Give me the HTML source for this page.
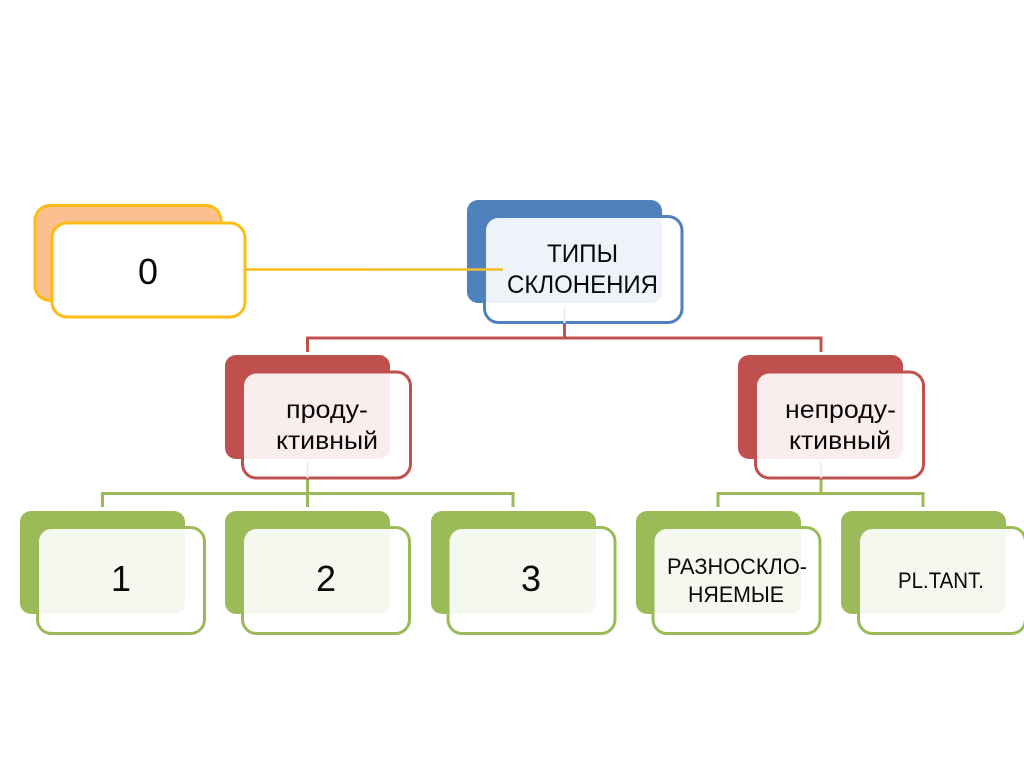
<!DOCTYPE html>
<html><head><meta charset="utf-8"><style>
html,body{margin:0;padding:0;background:#fff;width:1024px;height:767px;overflow:hidden}
svg{display:block}
text{font-family:"Liberation Sans","DejaVu Sans",sans-serif;fill:#0a0a0a;text-anchor:start}
</style></head><body>
<svg width="1024" height="767" viewBox="0 0 1024 767" xmlns="http://www.w3.org/2000/svg">
<!-- connectors -->
<g fill="none" stroke-width="3">
<path d="M307.5 352V338H821V352M564.500 323V338" stroke="#c0504d"/>
<path d="M102.500 507V493.500H513V507M307.500 478V507" stroke="#9bbb59"/>
<path d="M718 507V493.500H923V507M821 478V493.500" stroke="#9bbb59"/>
</g>
<!-- orange -->
<rect x="35" y="205.500" width="186" height="95" rx="15" fill="#fac090" stroke="#fcbc14" stroke-width="3"/>
<rect x="52" y="223" width="193" height="94" rx="15" fill="#fff" stroke="#fcbc14" stroke-width="3"/>
<path d="M246 269.500H372" stroke="#fcbc14" stroke-width="2.500"/>
<!-- blue -->
<rect x="467" y="200" width="195" height="103" rx="11" fill="#4f81bd"/>
<rect x="484.500" y="216.500" width="197.500" height="106" rx="14" fill="#fff" fill-opacity=".9" stroke="#4f81bd" stroke-width="3"/>
<path d="M372 269.500H503" stroke="#f0bd2c" stroke-width="2.500"/>
<path d="M564.500 307V323" stroke="#eee" stroke-width="2"/>
<!-- red -->
<rect x="225" y="355" width="165" height="104" rx="11" fill="#c0504d"/>
<rect x="242.500" y="372" width="168" height="106" rx="14" fill="#fff" fill-opacity=".9" stroke="#c0504d" stroke-width="3"/>
<path d="M307.500 462V478" stroke="#eee" stroke-width="2"/>
<rect x="738" y="355" width="165" height="104" rx="11" fill="#c0504d"/>
<rect x="755.500" y="372" width="168" height="106" rx="14" fill="#fff" fill-opacity=".9" stroke="#c0504d" stroke-width="3"/>
<path d="M821 462V478" stroke="#eee" stroke-width="2"/>
<!-- green -->
<g fill="#9bbb59">
<rect x="20" y="511" width="165" height="103" rx="11"/>
<rect x="225" y="511" width="165" height="103" rx="11"/>
<rect x="431" y="511" width="165" height="103" rx="11"/>
<rect x="636" y="511" width="165" height="103" rx="11"/>
<rect x="841" y="511" width="165" height="103" rx="11"/>
</g>
<g fill="#fff" fill-opacity=".9" stroke="#9bbb59" stroke-width="3">
<rect x="37.500" y="527.500" width="167" height="106" rx="14"/>
<rect x="242.500" y="527.500" width="167" height="106" rx="14"/>
<rect x="448" y="527.500" width="167" height="106" rx="14"/>
<rect x="653" y="527.500" width="167" height="106" rx="14"/>
<rect x="858.500" y="527.500" width="167" height="106" rx="14"/>
</g>
<!-- text -->
<text x="138" y="284" font-size="36" textLength="20" lengthAdjust="spacingAndGlyphs">0</text>
<text x="547" y="262" font-size="25" textLength="71" lengthAdjust="spacingAndGlyphs">ТИПЫ</text>
<text x="507" y="293" font-size="25" textLength="151" lengthAdjust="spacingAndGlyphs">СКЛОНЕНИЯ</text>
<text x="286" y="418" font-size="25" textLength="82" lengthAdjust="spacingAndGlyphs">проду-</text>
<text x="276" y="449" font-size="25" textLength="102" lengthAdjust="spacingAndGlyphs">ктивный</text>
<text x="785" y="418" font-size="25" textLength="111" lengthAdjust="spacingAndGlyphs">непроду-</text>
<text x="789" y="449" font-size="25" textLength="102" lengthAdjust="spacingAndGlyphs">ктивный</text>
<text x="111" y="591" font-size="36" textLength="20" lengthAdjust="spacingAndGlyphs">1</text>
<text x="316" y="591" font-size="36" textLength="20" lengthAdjust="spacingAndGlyphs">2</text>
<text x="521" y="591" font-size="36" textLength="20" lengthAdjust="spacingAndGlyphs">3</text>
<text x="667" y="574" font-size="22" textLength="140" lengthAdjust="spacingAndGlyphs">РАЗНОСКЛО-</text>
<text x="688" y="602" font-size="22" textLength="96" lengthAdjust="spacingAndGlyphs">НЯЕМЫЕ</text>
<text x="898" y="588" font-size="22" textLength="86" lengthAdjust="spacingAndGlyphs">PL.TANT.</text>
</svg>
</body></html>
